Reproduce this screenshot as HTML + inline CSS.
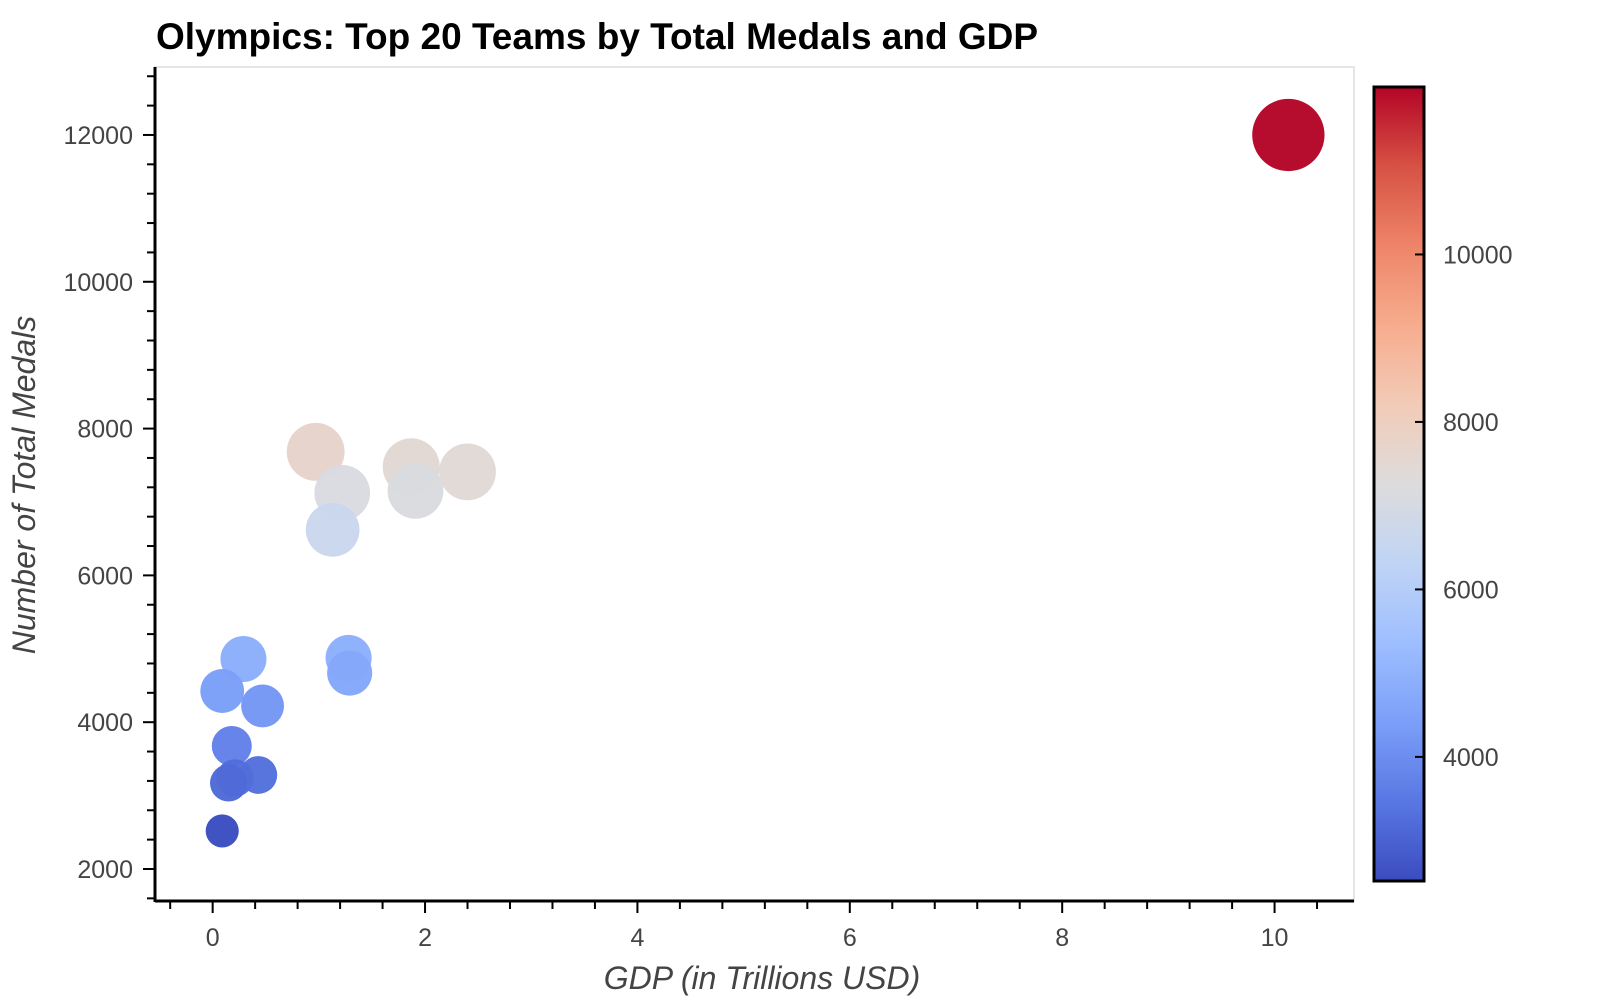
<!DOCTYPE html>
<html><head><meta charset="utf-8">
<style>
html,body{margin:0;padding:0;background:#fff;width:1600px;height:1000px;overflow:hidden;font-family:"Liberation Sans",sans-serif;}
</style></head>
<body>
<svg id="chart" width="1600" height="1000" xmlns="http://www.w3.org/2000/svg">
<defs>
<linearGradient id="cbgrad" x1="0" y1="1" x2="0" y2="0">
<stop offset="0" stop-color="#3b4cc0"/><stop offset="0.1" stop-color="#5977e3"/><stop offset="0.2" stop-color="#7b9ff9"/>
<stop offset="0.3" stop-color="#9ebeff"/><stop offset="0.4" stop-color="#c0d4f5"/><stop offset="0.5" stop-color="#dddcdc"/>
<stop offset="0.6" stop-color="#f2cbb7"/><stop offset="0.7" stop-color="#f7ac8e"/><stop offset="0.8" stop-color="#ee8468"/>
<stop offset="0.9" stop-color="#d65244"/><stop offset="1" stop-color="#b40426"/>
</linearGradient>
</defs>
<text x="156" y="49" font-size="37" font-weight="bold" fill="#000">Olympics: Top 20 Teams by Total Medals and GDP</text>
<rect x="155" y="67" width="1199" height="834" fill="none" stroke="#e5e5e5" stroke-width="2"/>
<g id="marks"></g>
<g id="axes"></g>
<text x="762" y="989" font-size="32" font-style="italic" fill="#444" text-anchor="middle">GDP (in Trillions USD)</text>
<text transform="translate(35,485) rotate(-90)" font-size="32" font-style="italic" fill="#444" text-anchor="middle">Number of Total Medals</text>
<rect x="1374" y="87" width="50" height="794" fill="url(#cbgrad)" stroke="#000" stroke-width="3"/>
<g id="cbticks"></g>
</svg>
<script>
const gdp =    [10.13, 0.97, 1.87, 2.40, 1.22, 1.91, 1.13, 0.29, 0.09, 0.47, 1.28, 1.29, 0.18, 0.43, 0.21, 0.15, 0.09];
const medals = [12000, 7683, 7479, 7410, 7124, 7152, 6620, 4861, 4425, 4221, 4875, 4670, 3676, 3281, 3240, 3172, 2518];
const xTicks = [0, 2, 4, 6, 8, 10];
const yTicks = [2000, 4000, 6000, 8000, 10000, 12000];
const cbTicks = [4000, 6000, 8000, 10000];

const NS = "http://www.w3.org/2000/svg";
const X0 = 155, X1 = 1354, Y0 = 901, Y1 = 67;
const xMin = -0.543, xMax = 10.748, yMin = 1564, yMax = 12926;
const sx = v => X0 + (v - xMin) / (xMax - xMin) * (X1 - X0);
const sy = v => Y0 - (v - yMin) / (yMax - yMin) * (Y0 - Y1);
const cMin = Math.min(...medals), cMax = Math.max(...medals);
const CB0 = 881, CB1 = 87;
const cy = v => CB0 - (v - cMin) / (cMax - cMin) * (CB0 - CB1);
const stops = ["#3b4cc0","#5977e3","#7b9ff9","#9ebeff","#c0d4f5","#dddcdc","#f2cbb7","#f7ac8e","#ee8468","#d65244","#b40426"].map(h=>[parseInt(h.substr(1,2),16),parseInt(h.substr(3,2),16),parseInt(h.substr(5,2),16)]);
function cmap(v){
  let t = Math.max(0, Math.min(1, (v - cMin) / (cMax - cMin))) * 10;
  let i = Math.min(9, Math.floor(t)), f = t - i;
  const a = stops[i], b = stops[i+1];
  return `rgb(${a.map((c,k)=>Math.round(c+(b[k]-c)*f)).join(",")})`;
}
function mk(tag, attrs, parent){
  const e = document.createElementNS(NS, tag);
  for (const k in attrs) e.setAttribute(k, attrs[k]);
  parent.appendChild(e); return e;
}
const marks = document.getElementById("marks");
const order = medals.map((m,i)=>i).sort((a,b)=>medals[b]-medals[a]);
order.forEach(i=>{
  const c = mk("circle", {cx: sx(gdp[i]), cy: sy(medals[i]), r: 0.33*Math.sqrt(medals[i]), fill: cmap(medals[i]), "fill-opacity": 0.97}, marks);
  
  
});
const axes = document.getElementById("axes");
let l = mk("line", {x1:X0, y1:Y0, x2:X1, y2:Y0, stroke:"#000", "stroke-width":3}, axes);


l = mk("line", {x1:X0, y1:Y0+1, x2:X0, y2:Y1, stroke:"#000", "stroke-width":3}, axes);


for (let v = -0.4; v <= xMax; v += 0.4){
  const major = Math.abs(v/2 - Math.round(v/2)) < 1e-6;
  if (major) continue;
  mk("line", {x1:sx(v), y1:Y0, x2:sx(v), y2:Y0+8, stroke:"#000", "stroke-width":2}, axes);
}
for (let v = 1600; v <= yMax; v += 400){
  if (v % 2000 === 0) continue;
  mk("line", {x1:X0, y1:sy(v), x2:X0-8, y2:sy(v), stroke:"#000", "stroke-width":2}, axes);
}
xTicks.forEach(v=>{
  mk("line", {x1:sx(v), y1:Y0, x2:sx(v), y2:Y0+12, stroke:"#000", "stroke-width":2}, axes);
  const t = mk("text", {x:sx(v), y:946, "font-size":25, fill:"#444", "text-anchor":"middle"}, axes);
  t.textContent = v;
  
  
});
yTicks.forEach(v=>{
  mk("line", {x1:X0, y1:sy(v), x2:X0-12, y2:sy(v), stroke:"#000", "stroke-width":2}, axes);
  const t = mk("text", {x:133, y:sy(v)+9, "font-size":25, fill:"#444", "text-anchor":"end"}, axes);
  t.textContent = v;
  
  
});
const cbt = document.getElementById("cbticks");
cbTicks.forEach(v=>{
  mk("line", {x1:1424, y1:cy(v), x2:1415, y2:cy(v), stroke:"#000", "stroke-width":2}, cbt);
  const t = mk("text", {x:1443, y:cy(v)+9, "font-size":25, fill:"#444"}, cbt);
  t.textContent = v;
  
  
});
</script>
</body></html>
